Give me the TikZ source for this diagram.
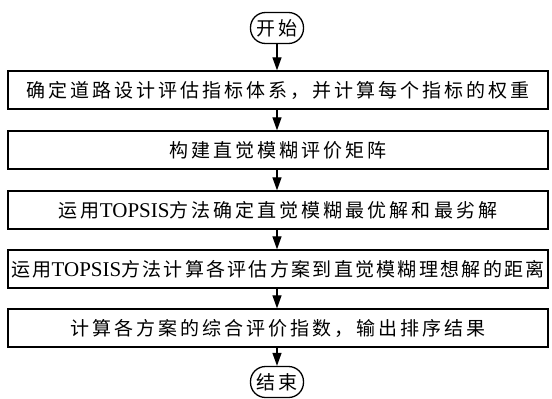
\documentclass[tikz,border=0pt]{standalone}
\usepackage{fontspec}
\setmainfont{Liberation Serif}
\newfontfamily\cjk[LetterSpace=16]{Noto Sans CJK SC}
\newfontfamily\cjkb[LetterSpace=12]{Noto Sans CJK SC}
\usetikzlibrary{arrows.meta}
\newcommand{\lat}[1]{{\fontsize{21pt}{24pt}\selectfont\rmfamily #1}}
\begin{document}
\begin{tikzpicture}[x=1pt,y=-1pt,
  every node/.style={font=\fontsize{19pt}{22pt}\selectfont\cjk},
  stepbox/.style={draw, line width=1.3pt, minimum width=540pt, minimum height=38pt, inner sep=0pt},
  term/.style={draw, line width=1.3pt, rounded corners=15pt, minimum width=53pt, minimum height=31pt, inner sep=0pt},
  flow/.style={line width=1.2pt, -{Triangle[length=13pt,width=9pt]}}]
\useasboundingbox (0,0) rectangle (552,399);
\node[term] (start) at (277,28) {开始};
\node[stepbox] (s1) at (278,90) {确定道路设计评估指标体系，并计算每个指标的权重};
\node[stepbox] (s2) at (278,150) {构建直觉模糊评价矩阵};
\node[stepbox] (s3) at (278,210) {运用\lat{TOPSIS}方法确定直觉模糊最优解和最劣解};
\node[stepbox, font=\fontsize{19pt}{22pt}\selectfont\cjkb] (s4) at (278,269) {运用\lat{TOPSIS}方法计算各评估方案到直觉模糊理想解的距离};
\node[stepbox] (s5) at (278,328) {计算各方案的综合评价指数，输出排序结果};
\node[term] (end) at (277,382) {结束};
\draw[flow] (start.south) -- (s1.north -| start.south);
\draw[flow] (s1.south -| start.south) -- (s2.north -| start.south);
\draw[flow] (s2.south -| start.south) -- (s3.north -| start.south);
\draw[flow] (s3.south -| start.south) -- (s4.north -| start.south);
\draw[flow] (s4.south -| start.south) -- (s5.north -| start.south);
\draw[flow] (s5.south -| start.south) -- (end.north);
\end{tikzpicture}
\end{document}
